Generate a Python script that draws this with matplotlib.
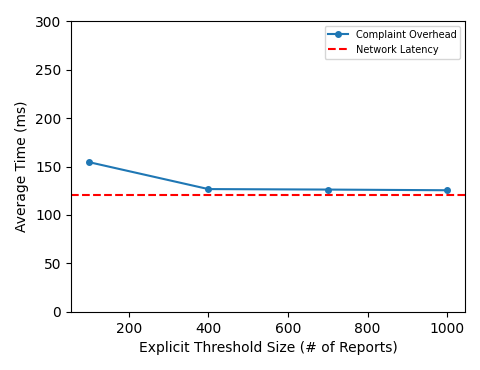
import matplotlib
matplotlib.use("Agg")
import matplotlib.pyplot as plt

thresholds = [100, 400, 700, 1000]
overhead = [154.5, 126.7, 126.2, 125.5]
network_latency = 121

fig, ax = plt.subplots(figsize=(4.8, 3.7), dpi=100)
fig.subplots_adjust(left=0.148, right=0.969, bottom=0.157, top=0.943)
ax.plot(thresholds, overhead, marker='o', markersize=4, color='#1f77b4', label='Complaint Overhead')
ax.axhline(network_latency, color='red', linestyle='--', label='Network Latency')
ax.set_ylim(0, 300)
ax.set_xlabel('Explicit Threshold Size (# of Reports)')
ax.set_ylabel('Average Time (ms)')
ax.legend(loc='upper right', fontsize=7)
fig.savefig('out.png', dpi=100)
